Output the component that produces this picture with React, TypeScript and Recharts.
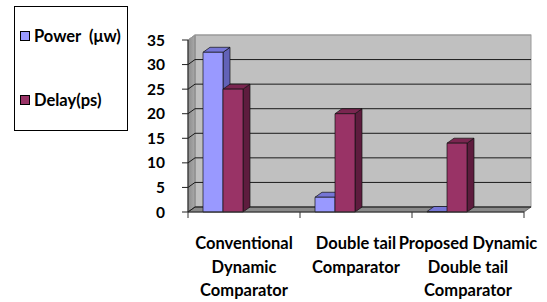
import { BarChart, Bar, XAxis, YAxis, CartesianGrid, ReferenceArea } from "recharts";

// category labels, split the way the original wraps them
const categoryLines = [
  ["Conventional", "Dynamic", "Comparator"],
  ["Double tail", "Comparator"],
  ["Proposed Dynamic", "Double tail", "Comparator"],
];
const categories = categoryLines.map((l) => l.join(" "));
const powerValues = [32.5, 3, 0.1];
const delayValues = [25, 20, 14];
const yTicks = [0, 5, 10, 15, 20, 25, 30, 35];
const seriesNames = ["Power  (\u03bcw)", "Delay(ps)"];
const seriesColors = ["#9999FF", "#993366"];

const data = categories.map((name, i) => ({
  name,
  power: powerValues[i],
  delay: delayValues[i],
}));

// fake 3d depth, like the old Excel charts
const DX = 7;
const DY = 5;
const BAR_SHIFT = -21;
const FONT = "Lato, 'Open Sans', sans-serif";

function makeBar3D(front: string, top: string, side: string) {
  // eslint-disable-next-line @typescript-eslint/no-explicit-any
  return (props: any) => {
    const { x, y, width, height } = props;
    if (width == null || height == null) return null;
    const x0 = x + BAR_SHIFT;
    const b = y + height;
    return (
      <g stroke="#111" strokeWidth={0.7} strokeLinejoin="round">
        <polygon
          fill={side}
          points={`${x0 + width},${y} ${x0 + width + DX},${y - DY} ${x0 + width + DX},${b - DY} ${x0 + width},${b}`}
        />
        <polygon
          fill={top}
          points={`${x0},${y} ${x0 + width},${y} ${x0 + width + DX},${y - DY} ${x0 + DX},${y - DY}`}
        />
        <rect x={x0} y={y} width={width} height={height} fill={front} />
      </g>
    );
  };
}

// eslint-disable-next-line @typescript-eslint/no-explicit-any
function Walls(props: any) {
  const { x, y, width, height } = props;
  const b = y + height;
  return (
    <g>
      <defs>
        <linearGradient id="sideWall" x1="0" y1="0" x2="1" y2="0">
          <stop offset="0%" stopColor="#8c8c8c" />
          <stop offset="100%" stopColor="#a9a9a9" />
        </linearGradient>
      </defs>
      <rect x={x + DX} y={y - DY} width={width} height={height} fill="#C0C0C0" stroke="#9a9a9a" strokeWidth={1} />
      <polygon
        fill="url(#sideWall)"
        stroke="#777"
        strokeWidth={0.8}
        points={`${x},${y} ${x + DX},${y - DY} ${x + DX},${b - DY} ${x},${b}`}
      />
      <polygon
        fill="#8a8a8a"
        stroke="#555"
        strokeWidth={0.8}
        points={`${x},${b} ${x + width},${b} ${x + width + DX},${b - DY} ${x + DX},${b - DY}`}
      />
    </g>
  );
}

// eslint-disable-next-line @typescript-eslint/no-explicit-any
function GridLine(p: any) {
  const { x1, y1, x2 } = p;
  const isTop = Math.abs(y1 - p.y) < 1;
  const stroke = isTop ? "#9a9a9a" : "#1a1a1a";
  return (
    <g stroke={stroke} strokeWidth={1}>
      <line x1={x1} y1={y1} x2={x1 + DX} y2={y1 - DY} />
      <line x1={x1 + DX} y1={y1 - DY} x2={x2 + DX} y2={y1 - DY} />
    </g>
  );
}

// eslint-disable-next-line @typescript-eslint/no-explicit-any
function CategoryTick(props: any) {
  const { x, y, payload, index } = props;
  const half = payload?.offset ?? 56;
  const lines = categoryLines[index] ?? [String(payload.value)];
  const last = index === categoryLines.length - 1;
  return (
    <g>
      <line x1={x - half} y1={y} x2={x - half} y2={y + 6} stroke="#333" />
      {last && <line x1={x + half} y1={y} x2={x + half} y2={y + 6} stroke="#333" />}
      <text
        x={x}
        textAnchor="middle"
        fontFamily={FONT}
        fontWeight={700}
        fontSize={16.5}
        fill="#000"
      >
        {lines.map((l, i) => (
          <tspan key={i} x={x} y={y + 37 + i * 23.5}>
            {l}
          </tspan>
        ))}
      </text>
    </g>
  );
}

function LegendBox() {
  return (
    <div
      style={{
        position: "absolute",
        left: 14,
        top: 6,
        width: 114,
        height: 125,
        border: "1px solid #000",
        boxSizing: "border-box",
        fontFamily: FONT,
        fontWeight: 700,
        fontSize: 16.5,
      }}
    >
      {seriesNames.map((name, i) => (
        <div
          key={name}
          style={{
            position: "absolute",
            left: 5,
            top: 19 + i * 64,
            display: "flex",
            alignItems: "center",
            whiteSpace: "pre",
          }}
        >
          <span
            style={{
              display: "inline-block",
              width: 8,
              height: 8,
              border: "1px solid #000",
              background: seriesColors[i],
              marginRight: 4,
            }}
          />
          <span>{name}</span>
        </div>
      ))}
    </div>
  );
}

export default function App() {
  return (
    <div style={{ position: "absolute", left: 0, top: 0, width: 547, height: 302, background: "#fff" }}>
      <BarChart
        width={547}
        height={302}
        data={data}
        barSize={20}
        barGap={0}
        margin={{ top: 40, right: 23, bottom: 10, left: 128 }}
      >
        <ReferenceArea y1={0} y2={35} shape={Walls} ifOverflow="visible" zIndex={-200} />
        <CartesianGrid vertical={false} horizontal={GridLine} />
        <XAxis
          dataKey="name"
          height={80}
          interval={0}
          tickSize={0}
          tickMargin={0}
          tickLine={false}
          axisLine={{ stroke: "#333" }}
          tick={CategoryTick}
        />
        <YAxis
          width={60}
          domain={[0, 35]}
          ticks={yTicks}
          interval={0}
          tickSize={6}
          tickMargin={17}
          axisLine={{ stroke: "#222" }}
          tickLine={{ stroke: "#222" }}
          tick={{ fontSize: 15.5, fontWeight: 700, fontFamily: FONT, fill: "#000" }}
        />
        <Bar
          dataKey="power"
          name={seriesNames[0]}
          fill={seriesColors[0]}
          shape={makeBar3D("#9999FF", "#7676D6", "#6262B8")}
          isAnimationActive={false}
        />
        <Bar
          dataKey="delay"
          name={seriesNames[1]}
          fill={seriesColors[1]}
          shape={makeBar3D("#993366", "#7A2650", "#5E1C3E")}
          isAnimationActive={false}
        />
      </BarChart>
      <LegendBox />
    </div>
  );
}
